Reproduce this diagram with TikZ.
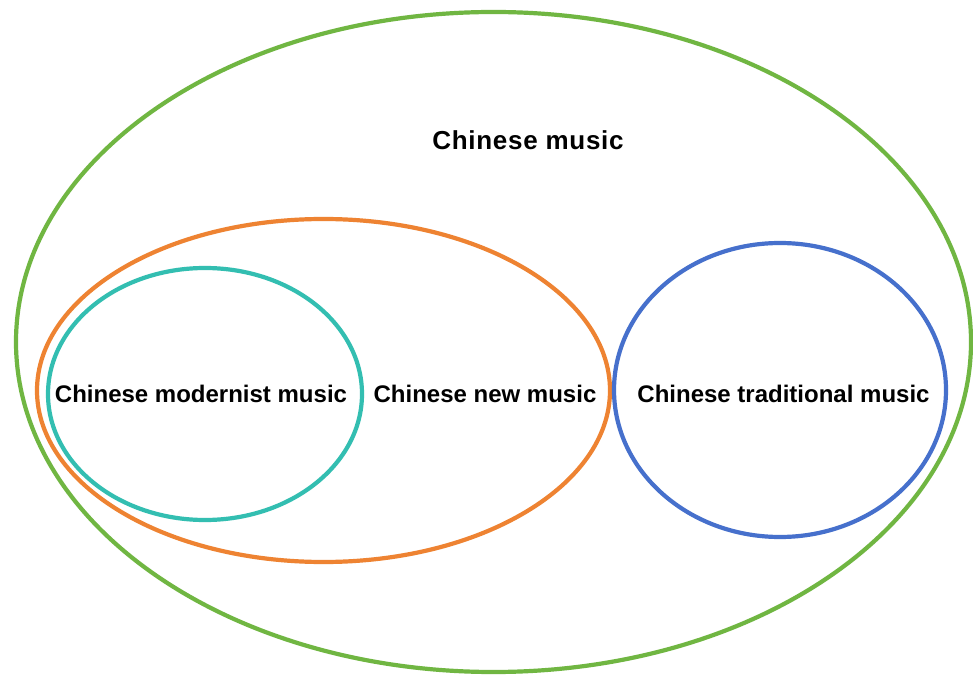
\documentclass[tikz,border=0pt]{standalone}
\usepackage{fontspec}
\setmainfont{Liberation Sans}
\definecolor{cgreen}{HTML}{70B642}
\definecolor{corange}{HTML}{EE8332}
\definecolor{cteal}{HTML}{33BEB1}
\definecolor{cblue}{HTML}{4670CC}
\tikzset{
  setline/.style={line width=4.2pt},
  lbl/.style={anchor=base, inner sep=0pt, font=\fontsize{24}{28}\selectfont\bfseries}
}
\begin{document}
\begin{tikzpicture}[x=1pt,y=1pt]
\useasboundingbox (0,0) rectangle (973,675);
\fill[white] (0,0) rectangle (973,675);
\draw[setline, cgreen] (493.5,333) ellipse [x radius=477.5, y radius=330];
\draw[setline, corange] (323.5,284.5) ellipse [x radius=286.5, y radius=171.5];
\draw[setline, cteal] (205,281) ellipse [x radius=157, y radius=126];
\draw[setline, cblue] (780,285) ellipse [x radius=166, y radius=147];
\node[lbl, font=\fontsize{26}{30}\selectfont\bfseries] (music) at (528,525.7) {\addfontfeatures{LetterSpace=2.7}Chinese music};
\node[lbl] (modern) at (201,272.5) {Chinese modernist music};
\node[lbl] (new) at (485,272.5) {Chinese new music};
\node[lbl] (trad) at (783.5,272.5) {Chinese traditional music};
\end{tikzpicture}
\end{document}
